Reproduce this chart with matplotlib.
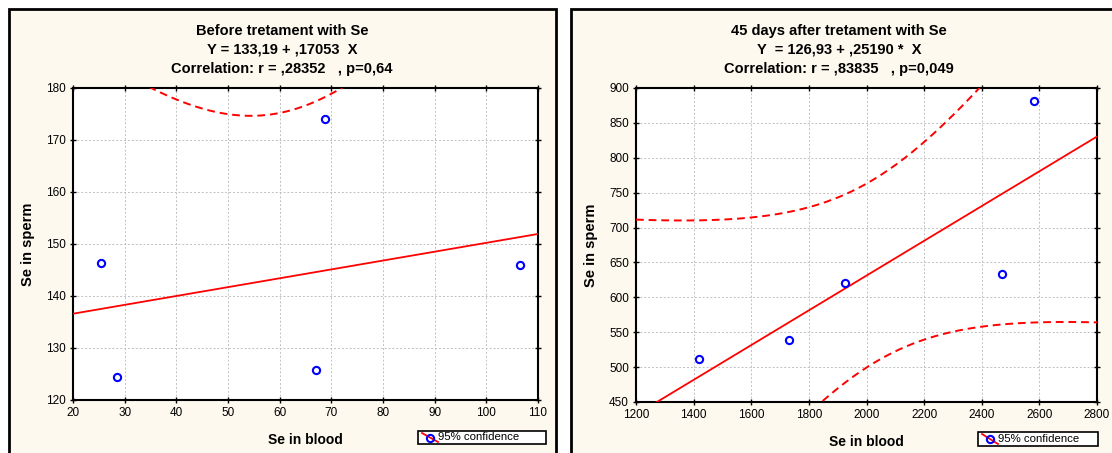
import numpy as np
import matplotlib
matplotlib.use("Agg")
import matplotlib.pyplot as plt
from matplotlib.patches import Rectangle
from matplotlib.lines import Line2D

plt.rcParams['font.family'] = ['Liberation Sans', 'DejaVu Sans']

# ---- data
blood_before = [25.5, 28.5, 67.0, 68.7, 106.5]
sperm_before = [146.3, 124.4, 125.7, 174.0, 146.0]
blood_after = [1420, 1730, 1925, 2470, 2580]
sperm_after = [511, 539, 621, 634, 882]

titles_before = ["Before tretament with Se",
                 "Y = 133,19 + ,17053  X",
                 "Correlation: r = ,28352   , p=0,64"]
titles_after = ["45 days after tretament with Se",
                "Y  = 126,93 + ,25190 *  X",
                "Correlation: r = ,83835   , p=0,049"]

xticks_before = np.arange(20, 111, 10)
yticks_before = np.arange(120, 181, 10)
xticks_after = np.arange(1200, 2801, 200)
yticks_after = np.arange(450, 901, 50)

T_CRIT = 3.182  # t(0.975, df=3)

W, H = 1112, 453
BG = '#fdf9ee'


def fx(px):
    return px / W


def fy(py):
    return 1 - py / H


def draw_panel(fig, rect, xs, ys, xlim, ylim, xticks, yticks, titles,
               panel_x, title_cx, leg_box):
    # panel background
    fig.patches.append(Rectangle((fx(panel_x[0]), fy(470)),
                                 fx(panel_x[1] - panel_x[0]), (470 - 9) / H,
                                 transform=fig.transFigure, facecolor=BG,
                                 edgecolor='black', linewidth=2, zorder=-5))
    ax = fig.add_axes(rect)
    ax.set_zorder(1)
    ax.set_facecolor('white')
    xs = np.array(xs, float)
    ys = np.array(ys, float)
    b, a = np.polyfit(xs, ys, 1)
    xx = np.linspace(xlim[0], xlim[1], 300)
    yhat = a + b * xx
    n = len(xs)
    resid = ys - (a + b * xs)
    s = np.sqrt(np.sum(resid ** 2) / (n - 2))
    sxx = np.sum((xs - xs.mean()) ** 2)
    half = T_CRIT * s * np.sqrt(1 / n + (xx - xs.mean()) ** 2 / sxx)
    ax.plot(xx, yhat, color='#ff0000', lw=1.3, zorder=3)
    for band in (yhat + half, yhat - half):
        ax.plot(xx, band, color='#ff0000', lw=1.4, dashes=(4, 2.5), zorder=3)
    ax.plot(xs, ys, 'o', mfc='none', mec='#0000ff', mew=1.5, ms=5.2, zorder=4)
    ax.set_xlim(xlim)
    ax.set_ylim(ylim)
    ax.set_xticks(xticks)
    ax.set_yticks(yticks)
    ax.grid(True, color='#c0c0c0', ls=(0, (2, 2)), lw=0.7)
    ax.tick_params(direction='inout', length=4, width=1, labelsize=8.5,
                   top=True, right=True, pad=3)
    for sp in ax.spines.values():
        sp.set_linewidth(1.5)
    ax.set_xlabel('Se in blood', fontsize=10, fontweight='bold', labelpad=10)
    ax.set_ylabel('Se in sperm', fontsize=10.5, fontweight='bold', labelpad=8)
    for i, t in enumerate(titles):
        fig.text(fx(title_cx), fy(31 + 19 * i), t, ha='center', va='center',
                 fontsize=10.5, fontweight='bold')
    # legend box
    x0, y0, x1, y1 = leg_box
    fig.patches.append(Rectangle((fx(x0), fy(y1)), fx(x1 - x0), (y1 - y0) / H,
                                 transform=fig.transFigure, facecolor='white',
                                 edgecolor='black', linewidth=1.2, zorder=5))
    fig.lines.append(Line2D([fx(x0 + 4), fx(x0 + 20)], [fy(y0 + 2), fy(y1 - 2)],
                            transform=fig.transFigure, color='#ff0000',
                            lw=1.3, zorder=6))
    fig.lines.append(Line2D([fx(x0 + 12)], [fy((y0 + y1) / 2)],
                            transform=fig.transFigure, marker='o', mfc='none',
                            mec='#0000ff', mew=1.5, ms=5.2, zorder=7))
    fig.text(fx(x0 + 20), fy((y0 + y1) / 2), '95% confidence', ha='left',
             va='center', fontsize=8.2, zorder=8)
    return ax


fig = plt.figure(figsize=(W / 100, H / 100), dpi=100)
fig.patch.set_facecolor('white')

draw_panel(fig, [fx(73), fy(400), fx(538 - 73), (400 - 88) / H],
           blood_before, sperm_before, (20, 110), (120, 180),
           xticks_before, yticks_before, titles_before,
           (9, 556), 282, (418, 431, 546, 444))

draw_panel(fig, [fx(636), fy(402), fx(1097 - 636), (402 - 88) / H],
           blood_after, sperm_after, (1200, 2800), (450, 900),
           xticks_after, yticks_after, titles_after,
           (571, 1130), 839, (978, 432, 1098, 446))

fig.savefig('out.png', dpi=100, facecolor=fig.get_facecolor())
